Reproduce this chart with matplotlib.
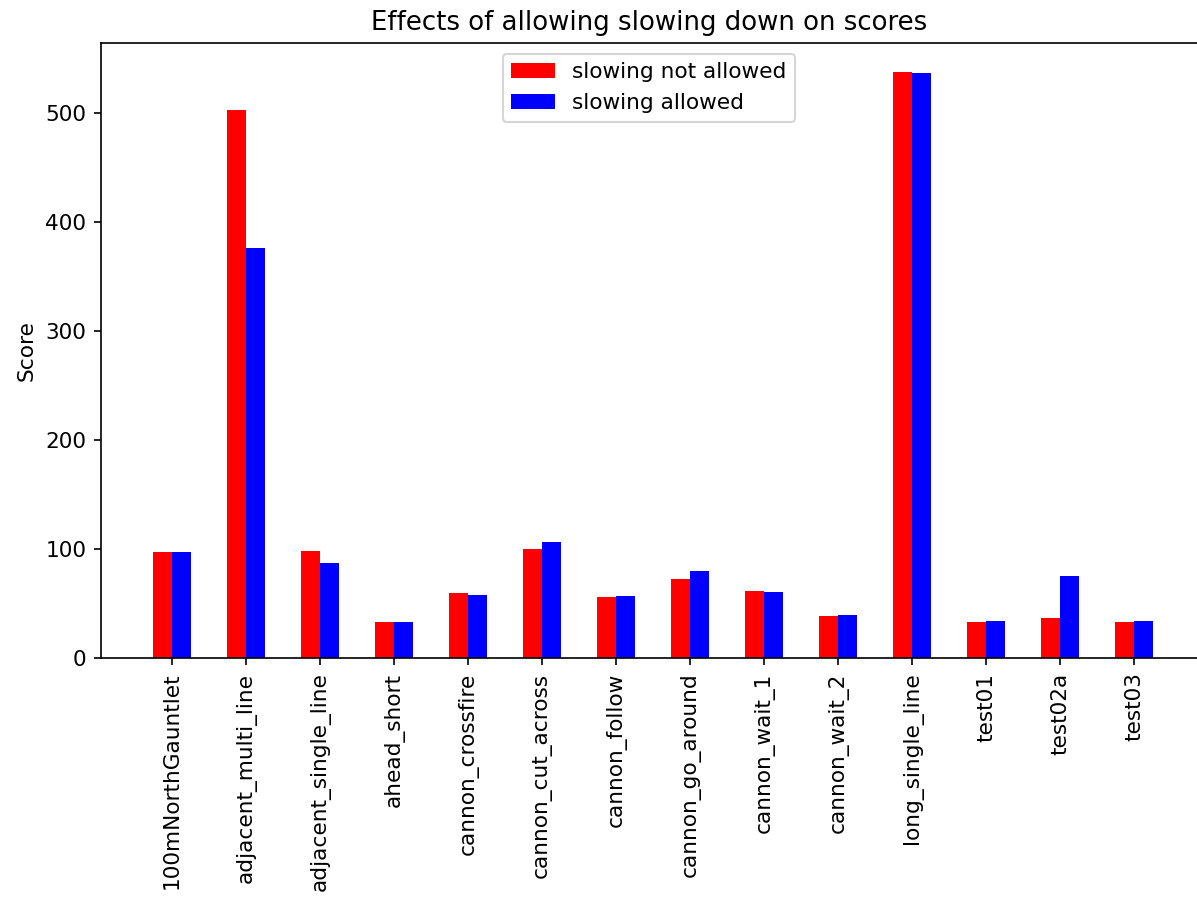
import numpy as np
import matplotlib.pyplot as plt

levels = ['100mNorthGauntlet', 'adjacent_multi_line', 'adjacent_single_line',
          'ahead_short', 'cannon_crossfire', 'cannon_cut_across', 'cannon_follow',
          'cannon_go_around', 'cannon_wait_1', 'cannon_wait_2', 'long_single_line',
          'test01', 'test02a', 'test03']
no_slow = [97.0, 502.5, 97.9, 32.8, 59.4, 99.7, 55.7, 72.2, 61.2, 38.3, 537.3, 32.8, 36.5, 32.8]
with_slow = [97.0, 375.9, 86.9, 32.8, 57.5, 106.1, 56.6, 79.5, 60.3, 39.2, 536.4, 33.7, 75.0, 33.7]

plt.rcParams['font.size'] = 10.4

x = np.arange(len(levels))
width = 0.26

fig = plt.figure(figsize=(7.98, 5.98), dpi=150)
ax = fig.add_axes([101 / 1197, 1 - 658 / 897, (1197 - 101) / 1197, (658 - 43) / 897])

ax.bar(x - width / 2, no_slow, width, color='red', label='slowing not allowed')
ax.bar(x + width / 2, with_slow, width, color='blue', label='slowing allowed')

ax.set_xticks(x)
ax.set_xticklabels(levels, rotation=90)
ax.set_xlim(-0.96, 13.85)
ax.set_ylim(0, 564)
ax.spines['right'].set_visible(False)
ax.set_ylabel('Score')
ax.set_title('Effects of allowing slowing down on scores')
ax.legend(loc='upper center')

fig.savefig('out.png', dpi=150)
